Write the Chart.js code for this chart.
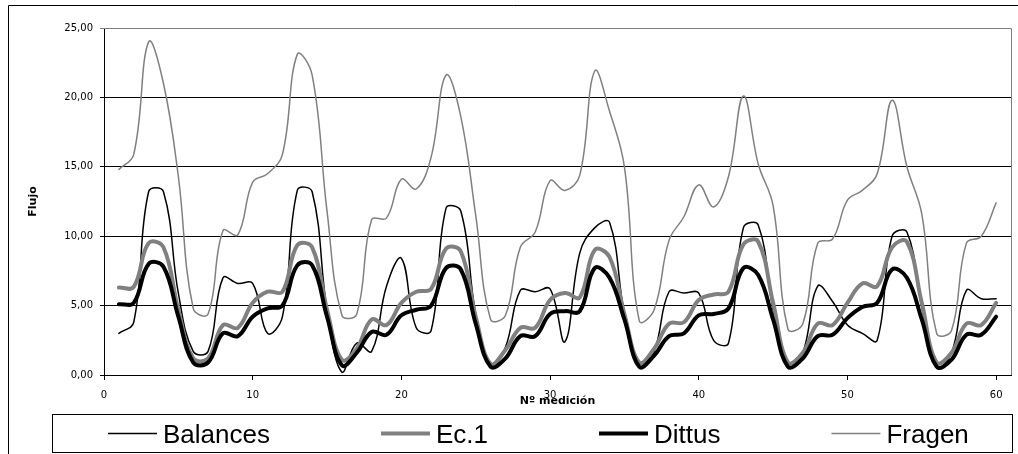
<!DOCTYPE html>
<html lang="es">
<head>
<meta charset="UTF-8">
<title>Flujo por medición</title>
<script src="https://cdn.jsdelivr.net/npm/chart.js"></script>
<style>
  body { margin: 0; background: #fff; }
  canvas { display: block; }
</style>
</head>
<body>
<canvas id="flujoChart" width="1018" height="454"></canvas>
<script>
// Nº medición 1..60
const mediciones = Array.from({ length: 60 }, (_, i) => i + 1);

const balances = [3.0, 3.8, 13.2, 13.2, 5.9, 1.7, 1.7, 7.0, 6.6, 6.6,
  3.0, 4.2, 13.3, 13.2, 4.7, 0.2, 2.3, 1.7, 6.4, 8.4,
  3.4, 3.2, 12.0, 11.8, 4.4, 0.6, 2.0, 6.1, 6.0, 6.2,
  2.4, 8.8, 10.6, 11.0, 4.4, 0.6, 1.7, 6.0, 5.9, 5.9,
  2.5, 2.3, 10.6, 10.8, 4.7, 0.6, 1.6, 6.4, 5.3, 3.6,
  3.0, 2.5, 10.0, 10.3, 4.9, 0.5, 1.6, 6.1, 5.5, 5.5];

const ec1 = [6.3, 6.35, 9.5, 9.2, 4.7, 1.2, 1.2, 3.6, 3.4, 5.2,
  6.0, 6.0, 9.35, 9.2, 4.7, 1.1, 1.9, 4.0, 3.6, 5.2,
  6.0, 6.2, 9.1, 8.9, 4.2, 0.8, 1.8, 3.4, 3.4, 5.4,
  5.9, 5.6, 9.0, 8.5, 4.4, 0.9, 1.9, 3.7, 3.8, 5.4,
  5.8, 6.0, 9.4, 9.6, 5.2, 0.9, 1.6, 3.7, 3.6, 5.2,
  6.6, 6.4, 9.2, 9.6, 5.2, 0.9, 1.6, 3.7, 3.6, 5.2];

const dittus = [5.1, 5.2, 8.0, 7.8, 4.2, 0.9, 0.9, 3.0, 2.8, 4.2,
  4.8, 5.0, 7.9, 7.9, 4.2, 0.7, 1.6, 3.1, 2.9, 4.3,
  4.7, 5.0, 7.7, 7.6, 3.7, 0.6, 1.2, 2.8, 2.8, 4.4,
  4.6, 4.6, 7.7, 7.0, 4.0, 0.6, 1.4, 2.8, 3.0, 4.3,
  4.4, 4.8, 7.7, 7.2, 4.0, 0.6, 1.2, 2.8, 2.9, 4.1,
  4.9, 5.2, 7.6, 7.0, 4.0, 0.6, 1.1, 2.9, 2.9, 4.2];

const fragen = [14.8, 15.9, 24.0, 21.0, 14.3, 4.8, 4.4, 10.4, 10.1, 13.9,
  14.5, 15.9, 23.1, 21.6, 11.8, 4.3, 4.4, 11.2, 11.3, 14.1,
  13.4, 15.7, 21.6, 18.6, 11.5, 4.0, 4.3, 9.2, 10.3, 14.0,
  13.3, 14.4, 21.9, 19.0, 15.0, 3.9, 4.7, 9.7, 11.4, 13.7,
  12.1, 14.3, 20.1, 15.2, 12.2, 3.3, 3.7, 9.5, 9.8, 12.6,
  13.3, 14.5, 19.8, 15.0, 11.6, 3.0, 3.2, 9.5, 10.0, 12.4];

const toPoints = vals => vals.map((v, i) => ({ x: mediciones[i], y: v }));

const AXIS_FONT = "'DejaVu Sans', sans-serif";
const LEGEND_FONT = "'Liberation Sans', Arial, sans-serif";

// frame, plot border and boxed legend like the original spreadsheet chart
const frame = {
  id: 'frame',
  beforeDatasetsDraw(chart) {
    const { ctx, chartArea: a } = chart;
    ctx.save();
    ctx.strokeStyle = '#808080';
    ctx.lineWidth = 1;
    ctx.beginPath();
    ctx.moveTo(a.left, a.top + 0.5);
    ctx.lineTo(a.right + 0.5, a.top + 0.5);
    ctx.lineTo(a.right + 0.5, a.bottom);
    ctx.stroke();
    ctx.restore();
  },
  afterDraw(chart) {
    const ctx = chart.ctx;
    ctx.save();
    ctx.strokeStyle = '#000';
    ctx.lineWidth = 1;
    ctx.beginPath();
    ctx.moveTo(8.5, 454);
    ctx.lineTo(8.5, 5.5);
    ctx.lineTo(1018, 5.5);
    ctx.stroke();

    // legend
    ctx.strokeRect(52.5, 414.5, 960, 38);
    ctx.font = '26px ' + LEGEND_FONT;
    ctx.textBaseline = 'alphabetic';
    let x = 108;
    chart.data.datasets.forEach(ds => {
      ctx.strokeStyle = ds.borderColor;
      ctx.lineWidth = ds.borderWidth;
      ctx.beginPath();
      ctx.moveTo(x, 433.5);
      ctx.lineTo(x + 49, 433.5);
      ctx.stroke();
      ctx.fillStyle = '#000';
      ctx.fillText(ds.label, x + 55, 443);
      x += 55 + ctx.measureText(ds.label).width + 111;
    });
    ctx.restore();
  }
};

new Chart(document.getElementById('flujoChart'), {
  type: 'line',
  data: {
    datasets: [
      { label: 'Balances', data: toPoints(balances), borderColor: '#000000', borderWidth: 1.5, order: 4 },
      { label: 'Ec.1', data: toPoints(ec1), borderColor: '#808080', borderWidth: 4, order: 3 },
      { label: 'Dittus', data: toPoints(dittus), borderColor: '#000000', borderWidth: 4, order: 2 },
      { label: 'Fragen', data: toPoints(fragen), borderColor: '#808080', borderWidth: 1.5, order: 1 }
    ]
  },
  options: {
    responsive: false,
    animation: false,
    devicePixelRatio: 1,
    layout: { padding: { left: 27, right: 7, top: 28, bottom: 46 } },
    elements: {
      point: { radius: 0 },
      line: { tension: 0.4, fill: false, borderCapStyle: 'round', borderJoinStyle: 'round' }
    },
    plugins: {
      legend: { display: false },
      tooltip: { enabled: false }
    },
    scales: {
      x: {
        type: 'linear',
        min: 0,
        max: 61,
        afterFit: s => { s.height = 33; },
        ticks: {
          stepSize: 10,
          includeBounds: false,
          padding: 9,
          color: '#000',
          font: { family: AXIS_FONT, size: 10 },
          maxRotation: 0
        },
        grid: { drawOnChartArea: false, tickLength: 5, color: '#000' },
        border: { color: '#000' },
        title: {
          display: true,
          text: 'Nº medición',
          color: '#000',
          padding: 0,
          font: { family: AXIS_FONT, size: 11, weight: 'bold' }
        }
      },
      y: {
        min: 0,
        max: 25,
        afterFit: s => { s.width = 77; },
        ticks: {
          stepSize: 5,
          padding: 7,
          color: '#000',
          font: { family: AXIS_FONT, size: 10 },
          callback: v => v.toFixed(2).replace('.', ',')
        },
        grid: {
          tickLength: 4,
          color: ctx => (ctx.tick && ctx.tick.value === 25) ? '#808080' : '#000'
        },
        border: { color: '#000' },
        title: {
          display: true,
          text: 'Flujo',
          color: '#000',
          padding: 0,
          font: { family: AXIS_FONT, size: 11, weight: 'bold' }
        }
      }
    }
  },
  plugins: [frame]
});
</script>
</body>
</html>
